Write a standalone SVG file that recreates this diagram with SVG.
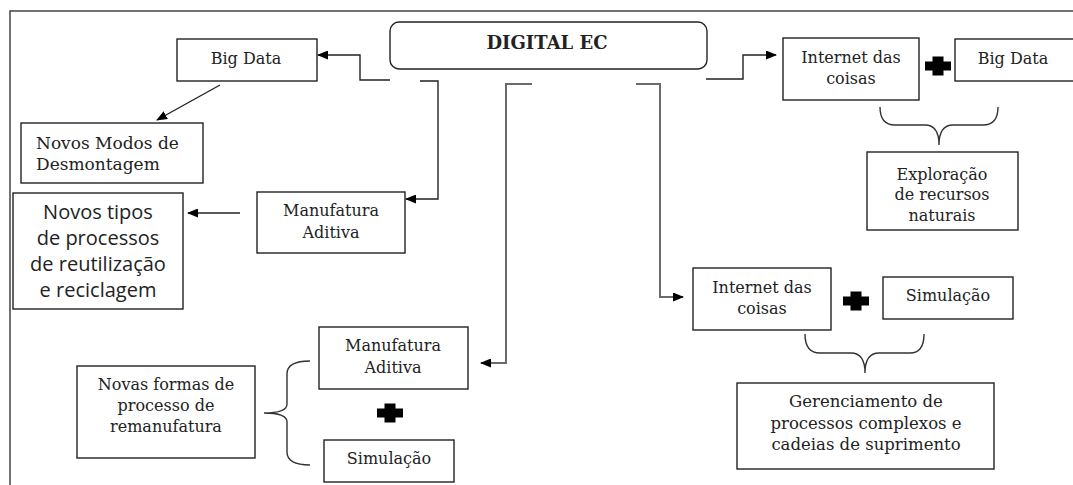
<svg xmlns="http://www.w3.org/2000/svg" xmlns:xlink="http://www.w3.org/1999/xlink" width="1073" height="485" viewBox="0 0 1073 485">
<style>
.box{fill:#fff;stroke:#222;stroke-width:1.4}
.t{font-family:"DejaVu Serif","Liberation Serif",serif;font-size:16px;fill:#222;text-anchor:middle}
.s{font-family:"Open Sans","Liberation Sans",sans-serif;font-size:20px;fill:#222;text-anchor:middle}
.c{fill:none;stroke:#222;stroke-width:1.4}
.g{fill:none;stroke:#6a6a6a;stroke-width:2}
.br{fill:none;stroke:#333;stroke-width:1.4}
.plus{fill:#000}
</style>
<defs>
<marker id="ah" markerUnits="userSpaceOnUse" markerWidth="11" markerHeight="9" refX="10" refY="4.5" orient="auto">
<path d="M0,0 L11,4.5 L0,9 z" fill="#000"/>
</marker>
<path id="plus" d="M-5.5,-9.5 H5.5 V-4.5 H13 V4.5 H5.5 V9.5 H-5.5 V4.5 H-13 V-4.5 H-5.5 Z"/>
</defs>
<rect width="1073" height="485" fill="#fff"/>
<g id="frame">
<path d="M10,485 V11 H1073" fill="none" stroke="#444" stroke-width="1.5"/>
</g>
<g id="connectors">
<path class="c" d="M390,80 H360 V55 H318" marker-end="url(#ah)"/>
<path class="c" d="M420,81 H438 V199 H406" marker-end="url(#ah)"/>
<path class="g" d="M532,84 H506 V363 H481" marker-end="url(#ah)"/>
<path class="g" d="M636,84 H660 V297 H683" marker-end="url(#ah)"/>
<path class="c" d="M706,79 H743 V55 H776" marker-end="url(#ah)"/>
<path class="c" d="M220,85 L157,120" marker-end="url(#ah)"/>
<path class="c" d="M240,213 H188" marker-end="url(#ah)"/>
<path class="br" d="M310,361 Q287,361 287,374 V404 Q287,413 264,413 Q287,413 287,422 V452 Q287,465 310,465"/>
<path class="br" d="M880,107 Q880,125 895,125 H925 Q939,125 939,145 Q939,125 953,125 H983 Q998,125 998,107"/>
<path class="br" d="M805,334 Q805,353 820,353 H851 Q865,353 865,373 Q865,353 879,353 H910 Q924,353 924,334"/>
<use href="#plus" class="plus" x="938" y="66"/>
<use href="#plus" class="plus" x="856" y="301"/>
<use href="#plus" class="plus" x="390" y="413"/>
</g>
<g id="digital-ec">
<rect class="box" x="390" y="22" width="317" height="47" rx="9"/>
<text x="547" y="49" class="t" style="font-weight:bold;font-size:18px">DIGITAL EC</text>
</g>
<g id="big-data-1">
<rect class="box" x="177" y="39" width="140" height="42"/>
<text x="246" y="64" class="t">Big Data</text>
</g>
<g id="novos-modos">
<rect class="box" x="21" y="123" width="182" height="60"/>
<text x="36" y="149" class="t" style="text-anchor:start;font-size:17px">Novos Modos de</text>
<text x="36" y="170" class="t" style="text-anchor:start;font-size:17px">Desmontagem</text>
</g>
<g id="manufatura-1">
<rect class="box" x="257" y="192" width="148" height="61"/>
<text x="331" y="216" class="t">Manufatura</text>
<text x="331" y="238" class="t">Aditiva</text>
</g>
<g id="novos-tipos">
<rect class="box" x="13" y="193" width="170" height="116"/>
<text x="98" y="219" class="s">Novos tipos</text>
<text x="98" y="245" class="s">de processos</text>
<text x="98" y="271" class="s">de reutilização</text>
<text x="98" y="297" class="s">e reciclagem</text>
</g>
<g id="novas-formas">
<rect class="box" x="77" y="366" width="178" height="92"/>
<text x="166" y="390" class="t">Novas formas de</text>
<text x="166" y="411" class="t">processo de</text>
<text x="166" y="432" class="t">remanufatura</text>
</g>
<g id="manufatura-2">
<rect class="box" x="319" y="327" width="149" height="62"/>
<text x="393" y="351" class="t">Manufatura</text>
<text x="393" y="373" class="t">Aditiva</text>
</g>
<g id="simulacao-1">
<rect class="box" x="324" y="440" width="130" height="42"/>
<text x="389" y="464" class="t">Simulação</text>
</g>
<g id="internet-1">
<rect class="box" x="783" y="38" width="136" height="62"/>
<text x="851" y="63" class="t">Internet das</text>
<text x="851" y="84" class="t">coisas</text>
</g>
<g id="big-data-2">
<rect class="box" x="955" y="39" width="130" height="42"/>
<text x="1013" y="64" class="t">Big Data</text>
</g>
<g id="exploracao">
<rect class="box" x="867" y="152" width="151" height="78"/>
<text x="942" y="180" class="t">Exploração</text>
<text x="942" y="200" class="t">de recursos</text>
<text x="942" y="221" class="t">naturais</text>
</g>
<g id="internet-2">
<rect class="box" x="693" y="268" width="138" height="62"/>
<text x="762" y="293" class="t">Internet das</text>
<text x="762" y="314" class="t">coisas</text>
</g>
<g id="simulacao-2">
<rect class="box" x="883" y="277" width="130" height="42"/>
<text x="948" y="301" class="t">Simulação</text>
</g>
<g id="gerenciamento">
<rect class="box" x="737" y="383" width="257" height="86"/>
<text x="866" y="407" class="t" style="font-size:16.5px">Gerenciamento de</text>
<text x="866" y="429" class="t" style="font-size:16.5px">processos complexos e</text>
<text x="866" y="450" class="t" style="font-size:16.5px">cadeias de suprimento</text>
</g>
</svg>
